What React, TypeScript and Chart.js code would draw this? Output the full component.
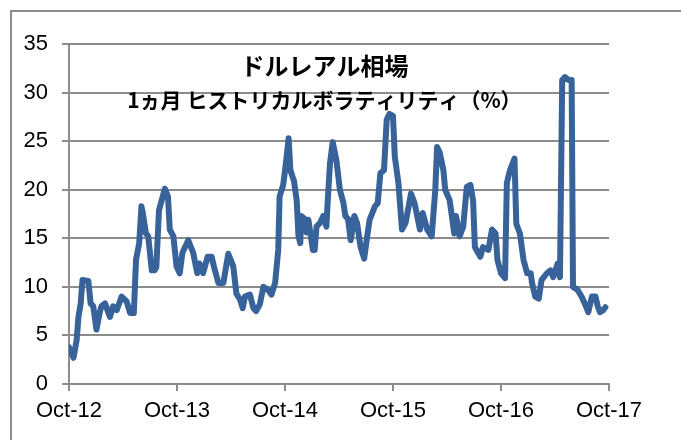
import React, { useEffect, useRef } from "react";
import { Chart, registerables } from "chart.js";

Chart.register(...registerables);

// months elapsed since Oct-2012
const monthsSinceOct12 = [
  0, 0.5, 0.85, 1.05, 1.3, 1.5, 2.15, 2.4, 2.7, 3.05, 3.4, 3.6, 4.0, 4.55, 4.9, 5.3, 5.85, 6.4, 6.8, 7.2,
  7.45, 7.8, 8.05, 8.2, 8.55, 8.8, 9.2, 9.5, 9.7, 10.0, 10.3, 10.65, 11.0, 11.2, 11.6, 11.95, 12.3, 12.6, 13.25, 13.8,
  14.25, 14.5, 14.9, 15.4, 15.85, 16.1, 16.6, 17.15, 17.7, 18.25, 18.6, 19.0, 19.3, 19.55, 20.1, 20.5, 20.8, 21.2, 21.6, 22.1,
  22.5, 22.9, 23.25, 23.4, 23.8, 24.1, 24.4, 24.6, 25.0, 25.3, 25.5, 25.7, 25.8, 26.3, 26.4, 26.6, 27.1, 27.3, 27.5, 27.9,
  28.25, 28.6, 28.75, 29.0, 29.3, 29.7, 30.1, 30.5, 30.7, 31.0, 31.3, 31.7, 32.0, 32.4, 32.8, 33.1, 33.4, 34.0, 34.3, 34.6,
  35.0, 35.3, 35.6, 36.0, 36.2, 36.6, 37.0, 37.4, 38.0, 38.4, 39.0, 39.3, 39.8, 40.3, 40.7, 40.9, 41.2, 41.6, 41.8, 42.3,
  42.8, 43.0, 43.4, 43.8, 44.2, 44.6, 44.9, 45.1, 45.7, 46.0, 46.6, 47.0, 47.4, 47.6, 48.0, 48.45, 48.65, 49.0, 49.5, 49.7,
  50.1, 50.5, 50.9, 51.3, 51.45, 51.8, 52.2, 52.5, 53.1, 53.5, 53.8, 54.3, 54.55, 54.8, 55.1, 55.5, 55.85, 56.0, 56.5, 56.95,
  57.3, 57.7, 58.1, 58.5, 58.75, 59.0, 59.35, 59.6,
];

// 1-month historical volatility (%)
const volatility = [
  3.8, 2.7, 4.5, 6.9, 8.3, 10.7, 10.6, 8.3, 8.0, 5.6, 7.3, 8.0, 8.3, 6.9, 8.0, 7.6, 9.0, 8.5, 7.3, 7.3,
  12.8, 14.5, 18.3, 17.6, 15.5, 15.2, 11.7, 11.7, 12.0, 17.9, 18.9, 20.1, 19.3, 15.9, 15.2, 12.1, 11.4, 13.5, 14.8, 13.5,
  11.4, 12.4, 11.4, 13.1, 13.1, 12.1, 10.4, 10.4, 13.4, 12.1, 9.3, 8.7, 7.8, 9.0, 9.2, 7.8, 7.5, 8.2, 10.0, 9.7,
  9.2, 10.4, 13.8, 19.3, 20.5, 22.7, 25.3, 22.0, 20.9, 18.9, 15.2, 14.5, 17.3, 16.9, 15.6, 16.9, 13.8, 13.8, 16.2, 16.6,
  17.3, 16.2, 18.9, 22.7, 24.9, 23.1, 20.0, 18.6, 17.3, 17.0, 14.8, 17.3, 16.6, 14.1, 12.9, 15.0, 16.9, 18.3, 18.6, 21.7,
  22.0, 27.2, 27.8, 27.6, 23.4, 20.7, 15.9, 16.6, 19.6, 18.6, 15.9, 17.6, 15.9, 15.2, 20.0, 24.4, 23.8, 22.0, 20.0, 18.9,
  15.5, 17.3, 15.2, 16.2, 20.3, 20.5, 18.9, 14.1, 13.1, 14.1, 13.8, 15.9, 15.5, 12.8, 11.4, 10.9, 20.7, 22.0, 23.2, 16.5,
  15.5, 12.8, 11.4, 11.4, 10.4, 9.0, 8.8, 10.7, 11.4, 11.7, 11.0, 12.4, 11.0, 31.3, 31.6, 31.3, 31.3, 10.0, 9.7, 9.0,
  8.3, 7.4, 9.0, 9.0, 8.0, 7.4, 7.6, 7.9,
];

const tickMonths = [0, 12, 24, 36, 48, 60];
const tickLabels = ["Oct-12", "Oct-13", "Oct-14", "Oct-15", "Oct-16", "Oct-17"];
const yMin = 0;
const yMax = 35;
const yStep = 5;
const titleLines = ["ドルレアル相場", "1ヵ月 ヒストリカルボラティリティ（%）"];

const GRID = "#8c8c8c";
const LINE = "#38639a";
const TICK_FONT = { family: '"Liberation Sans", Arial, sans-serif', size: 22 };

const titlePlugin = {
  id: "innerTitle",
  afterDatasetsDraw(chart: any) {
    const { ctx, chartArea } = chart;
    const cx = chartArea.left + (chartArea.right - chartArea.left) * 0.473;
    ctx.save();
    ctx.fillStyle = "#000";
    ctx.textAlign = "center";
    ctx.textBaseline = "middle";
    ctx.font = 'bold 24px "Noto Sans CJK JP", sans-serif';
    ctx.fillText(titleLines[0], cx, chartArea.top + 22);
    ctx.font = 'bold 21px "Noto Sans CJK JP", sans-serif';
    ctx.fillText(titleLines[1], cx, chartArea.top + 56);
    ctx.restore();
  },
};

export default function App() {
  const canvasRef = useRef<HTMLCanvasElement | null>(null);

  useEffect(() => {
    if (!canvasRef.current) return;
    const data = monthsSinceOct12.map((m, i) => ({ x: m, y: volatility[i] }));
    const chart = new Chart(canvasRef.current, {
      type: "line",
      data: {
        datasets: [
          {
            data,
            borderColor: LINE,
            borderWidth: 6,
            pointRadius: 0,
            fill: false,
            tension: 0,
            borderJoinStyle: "round",
            borderCapStyle: "round",
          },
        ],
      },
      options: {
        animation: false,
        responsive: true,
        maintainAspectRatio: false,
        layout: { padding: { left: 0, top: 44, right: 72, bottom: 0 } },
        plugins: { legend: { display: false }, tooltip: { enabled: false }, title: { display: false } },
        scales: {
          x: {
            type: "linear",
            min: tickMonths[0],
            max: tickMonths[tickMonths.length - 1],
            afterFit: (s: any) => {
              s.height = 56;
            },
            afterBuildTicks: (s: any) => {
              s.ticks = tickMonths.map((v) => ({ value: v }));
            },
            ticks: {
              autoSkip: false,
              maxRotation: 0,
              color: "#000",
              font: TICK_FONT,
              padding: 7,
              callback: (v: any) => {
                const i = tickMonths.indexOf(Number(v));
                return i >= 0 ? tickLabels[i] : "";
              },
            },
            grid: { drawOnChartArea: false, drawTicks: true, tickLength: 7, color: GRID, lineWidth: 2 },
            border: { display: true, color: GRID, width: 2 },
          },
          y: {
            min: yMin,
            max: yMax,
            afterFit: (s: any) => {
              s.width = 69;
            },
            ticks: { stepSize: yStep, color: "#000", font: TICK_FONT, padding: 14 },
            grid: { color: GRID, lineWidth: 2, tickLength: 7, drawTicks: true },
            border: { display: true, color: GRID, width: 2 },
          },
        },
      },
      plugins: [titlePlugin],
    });
    return () => chart.destroy();
  }, []);

  return (
    <div
      style={{
        position: "fixed",
        left: 0,
        top: 0,
        width: 681,
        height: 440,
        overflow: "hidden",
        background: "#fff",
      }}
    >
      <div
        style={{
          position: "absolute",
          left: 10,
          top: 10,
          width: 720,
          height: 480,
          borderLeft: `2px solid ${GRID}`,
          borderTop: `2px solid ${GRID}`,
        }}
      />
      <div style={{ position: "absolute", left: 0, top: 0, width: 681, height: 440 }}>
        <canvas ref={canvasRef} />
      </div>
    </div>
  );
}
